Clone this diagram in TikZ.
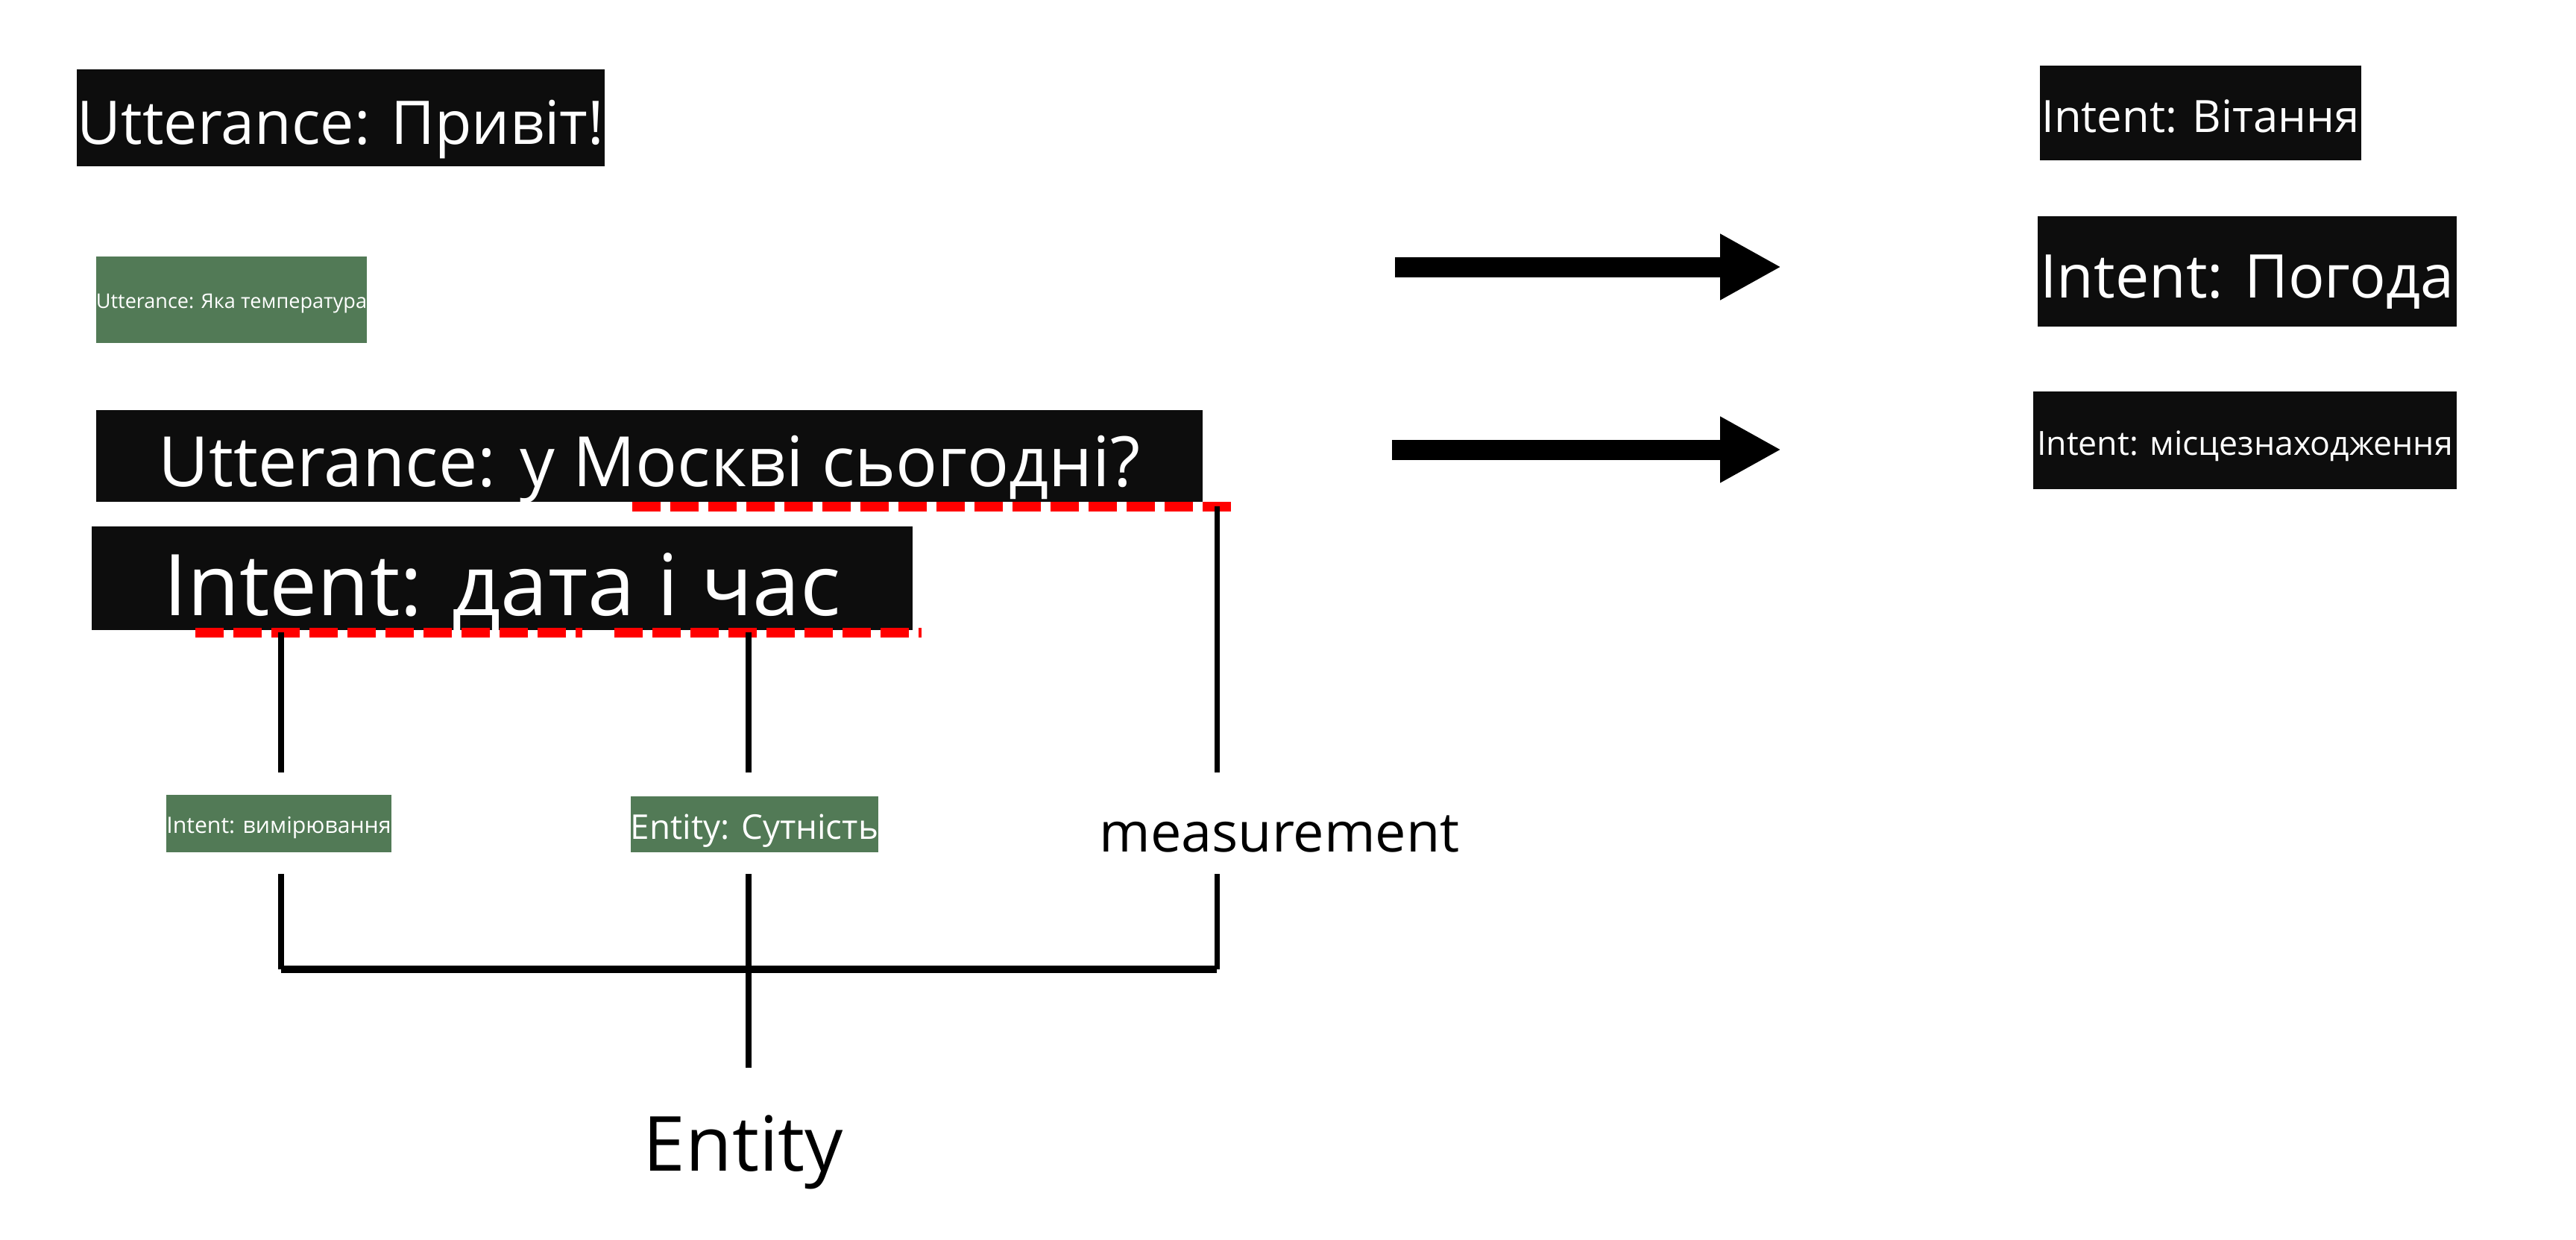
\documentclass[tikz,border=0pt]{standalone}
\usepackage{fontspec}
\setmainfont{Open Sans}
\usetikzlibrary{arrows.meta, positioning, calc}
\definecolor{boxblack}{HTML}{0D0D0D}
\definecolor{boxgreen}{HTML}{527A56}
\newcommand{\fs}[1]{\fontsize{#1}{#1}\selectfont}

\begin{document}
\begin{tikzpicture}[
    blackbox/.style={fill=boxblack, text=white, inner sep=0pt, font=\fs{#1}, text height=0.88*#1pt, text depth=0pt},
    greenbox/.style={fill=boxgreen, text=white, inner sep=0pt, font=\fs{#1}, text height=0.88*#1pt, text depth=0pt},
    redline/.style={red, line width=0.13cm, dash pattern=on 0.38cm off 0.13cm},
    stem/.style={line width=2pt},
    bigarrow/.style={line width=0.27cm, -{Triangle[length=0.82cm, width=0.83cm]}}
]
    \useasboundingbox (0,0) rectangle (34.55,-16.63);

    % utterances and intents on the left
    \node[blackbox=23, minimum width=7.08cm, minimum height=1.30cm] (uHello) at (4.57,-1.58) {Utterance: Привіт!};
    \node[greenbox=7.7, minimum width=3.61cm, minimum height=1.16cm] (uTemp) at (3.105,-4.02) {Utterance: Яка температура};
    \node[blackbox=26.5, minimum width=14.84cm, minimum height=1.23cm] (uMoscow) at (8.71,-6.115) {Utterance: у Москві сьогодні?};
    \node[blackbox=32.5, minimum width=11.01cm, minimum height=1.39cm] (iDate) at (6.735,-7.755) {Intent: дата і час};

    % red underlines
    \coordinate (r1a) at (8.48,-6.79);
    \coordinate (r1b) at (16.54,-6.79);
    \coordinate (r2a) at (2.62,-8.48);
    \coordinate (r2b) at (7.81,-8.48);
    \coordinate (r3a) at (8.24,-8.48);
    \coordinate (r3b) at (12.36,-8.48);
    \draw[redline] (r1a) -- (r1b);
    \draw[redline] (r2a) -- (r2b);
    \draw[redline] (r3a) -- (r3b);

    % entity tree
    \node[greenbox=8.6, minimum width=3.00cm, minimum height=0.77cm] (iMeasure) at (3.74,-11.045) {Intent: вимірювання};
    \node[greenbox=13, minimum width=3.30cm, minimum height=0.75cm] (eEntity) at (10.12,-11.055) {Entity: Сутність};
    \node[font=\fs{21}, inner sep=0pt] (measure) at (17.16,-11.19) {measurement};
    \node[font=\fs{29}, inner sep=0pt] (entity) at (9.97,-15.45) {Entity};

    \coordinate (a1) at (3.77,-8.48);
    \coordinate (a2) at (3.77,-10.36);
    \coordinate (a3) at (3.77,-11.72);
    \coordinate (a4) at (3.77,-13.00);
    \coordinate (b1) at (10.04,-8.48);
    \coordinate (b2) at (10.04,-10.36);
    \coordinate (b3) at (10.04,-11.72);
    \coordinate (b4) at (10.04,-14.32);
    \coordinate (c1) at (16.32,-6.79);
    \coordinate (c2) at (16.32,-10.36);
    \coordinate (c3) at (16.32,-11.72);
    \coordinate (c4) at (16.32,-13.00);
    \draw[stem] (a1) -- (a2);
    \draw[stem] (b1) -- (b2);
    \draw[stem] (c1) -- (c2);
    \draw[stem] (a3) -- (a4);
    \draw[stem] (b3) -- (b4);
    \draw[stem] (c3) -- (c4);
    \draw[line width=2.8pt] (a4) -- (c4);

    % arrows and intents on the right
    \coordinate (s1) at (18.71,-3.58);
    \coordinate (e1) at (23.89,-3.58);
    \coordinate (s2) at (18.67,-6.03);
    \coordinate (e2) at (23.89,-6.03);
    \draw[bigarrow] (s1) -- (e1);
    \draw[bigarrow] (s2) -- (e2);

    \node[blackbox=17, minimum width=4.31cm, minimum height=1.27cm] (iGreet) at (29.515,-1.515) {Intent: Вітання};
    \node[blackbox=23, minimum width=5.62cm, minimum height=1.48cm] (iWeather) at (30.14,-3.64) {Intent: Погода};
    \node[blackbox=12.7, minimum width=5.68cm, minimum height=1.31cm] (iPlace) at (30.11,-5.905) {Intent: місцезнаходження};
\end{tikzpicture}
\end{document}
